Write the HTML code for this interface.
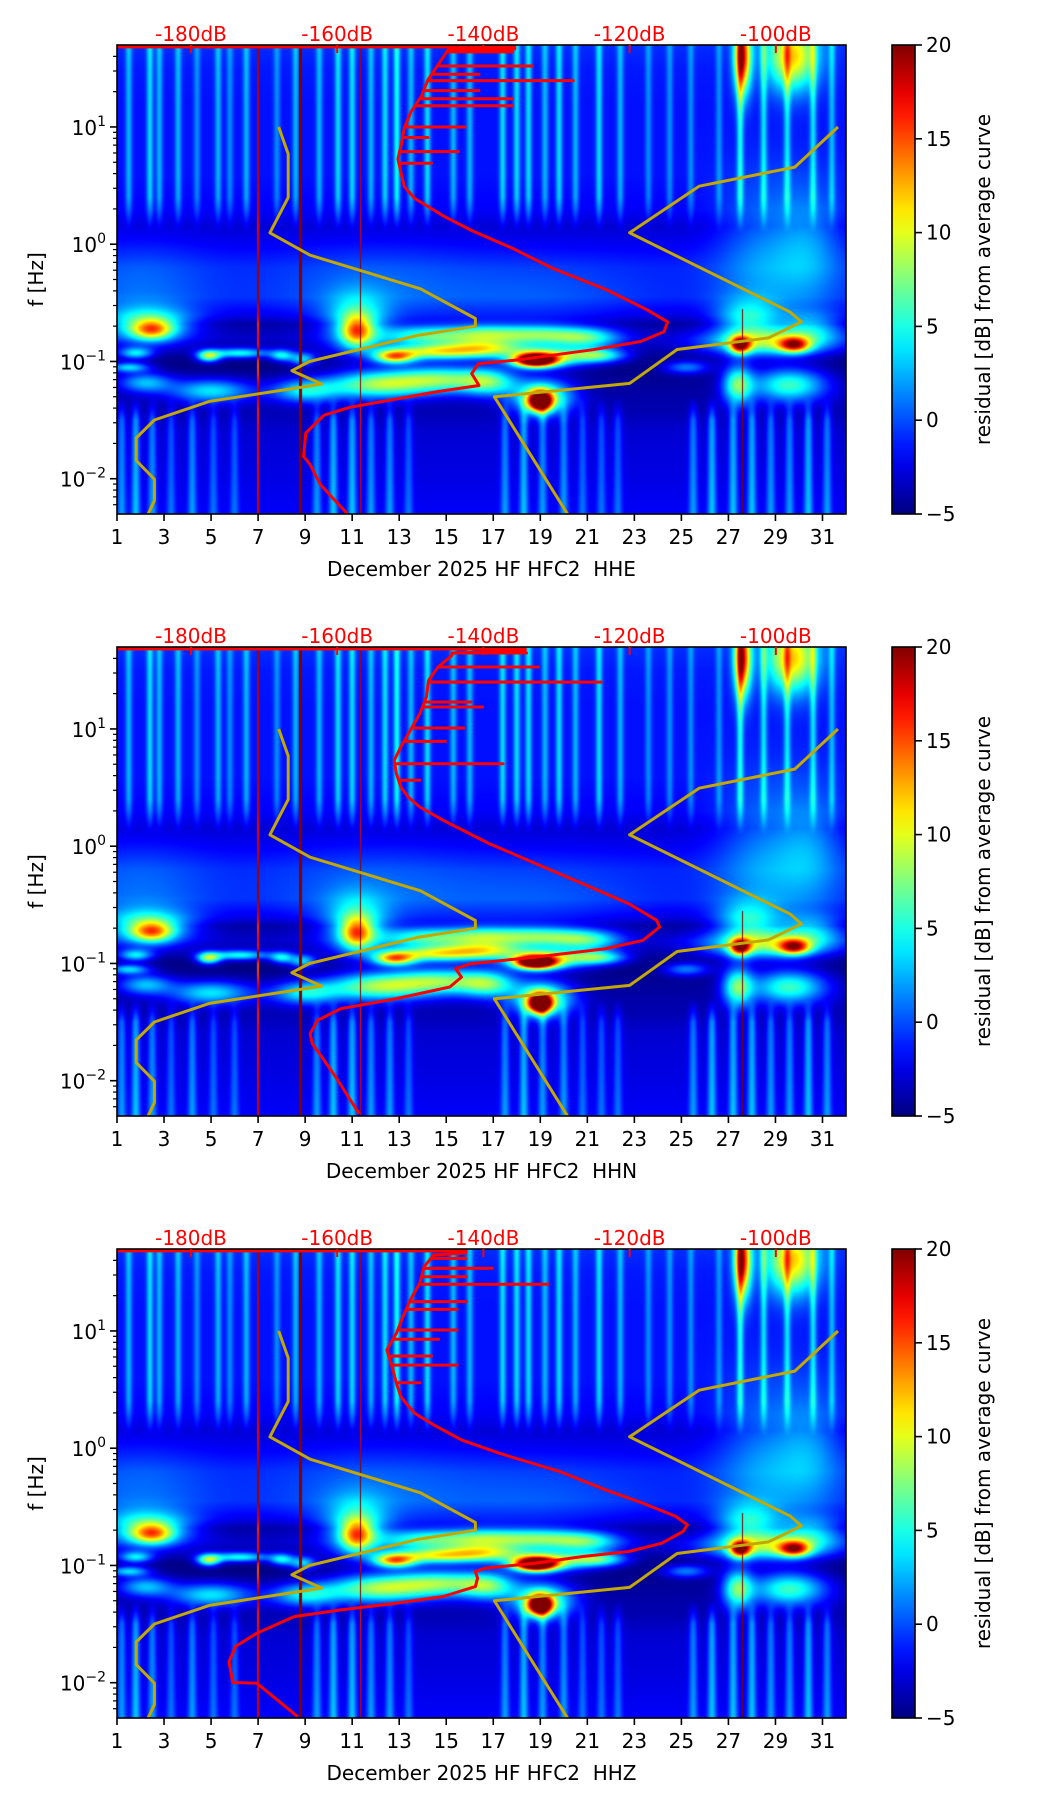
<!DOCTYPE html>
<html><head><meta charset="utf-8">
<style>
html,body{margin:0;padding:0;background:#fff;}
#wrap{position:relative;width:1052px;height:1806px;overflow:hidden;font-family:"DejaVu Sans","Liberation Sans",sans-serif;}
canvas{position:absolute;}
svg{position:absolute;left:0;top:0;}
text{white-space:pre;}
</style></head>
<body>
<div id="wrap">
<canvas id="c0" width="729" height="469" style="left:117px;top:45px"></canvas>
<canvas id="c1" width="729" height="469" style="left:117px;top:647px"></canvas>
<canvas id="c2" width="729" height="469" style="left:117px;top:1249px"></canvas>
<svg id="svg" width="1052" height="1806" xmlns="http://www.w3.org/2000/svg"></svg>
</div>
<script>
// ---------- data ----------
const dayTicks=[1,3,5,7,9,11,13,15,17,19,21,23,25,27,29,31];
const dbTicks=[-180,-160,-140,-120,-100];
const dbTickLabels=["-180dB","-160dB","-140dB","-120dB","-100dB"];
const cbTicks=[-5,0,5,10,15,20];
const cbTickLabels=["\u22125","0","5","10","15","20"];
const yTickExp=[1,0,-1,-2];
const yTickLabels=["1","0","\u22121","\u22122"];
const panelTitles=["December 2025 HF HFC2  HHE","December 2025 HF HFC2  HHN","December 2025 HF HFC2  HHZ"];

const bandLogF=[1.7,1.5,1.2,0.6,0.3,0.15,0.0,-0.2,-0.45,-0.6,-0.68,-0.8,-0.88,-0.97,-1.05,-1.15,-1.3,-1.42,-1.6,-2.0,-2.3];
const bandVal=[-0.8,-1.3,-1.5,-1.5,-2,-3,-2.3,-1.2,-1.2,-2.8,-4.5,-3.5,-4,-5,-5,-4.5,-4,-3.8,-3,-2.5,-2];

const blobDay=[2.5,2.3,1.8,4.9,6.2,8.0,8.9,11.2,11.2,12.8,14.5,16.6,14.0,16.5,19.0,21.0,18.8,19.4,21.5,1.5,2.2,5.0,9.0,12.0,14.8,16.8,19.0,19.1,27.5,29.8,28.6,27.8,30.5,27.4,29.6,25.2,28.5,30.5,2.0,12.0,19.0,27.6,29.7];
const blobLogF=[-0.73,-0.68,-0.93,-0.955,-0.93,-0.95,-0.98,-0.74,-0.68,-0.96,-0.92,-0.89,-0.78,-0.77,-0.77,-0.80,-0.99,-0.96,-0.95,-1.05,-1.18,-1.25,-1.25,-1.2,-1.15,-1.18,-1.34,-1.30,-0.86,-0.86,-0.84,-0.65,-0.72,-1.2,-1.2,-1.05,-0.1,0.0,-0.4,-0.45,-0.5,1.6,1.6];
const blobAmp=[11,9,8,12,9,8,8,11,8,15,12,10,8,9,9,8,28,12,9,8,7,8,8,11,11,8,26,12,18,15,10,7,6,11,10,6,3.5,3.5,2,2,1.5,18,13];
const blobSx=[0.6,1.3,0.5,0.35,0.9,0.35,0.4,0.45,0.9,0.6,1.4,1.2,1.2,1.2,1.3,1.0,0.6,1.3,0.8,0.6,0.8,1.2,1.0,1.5,1.6,0.8,0.35,0.9,0.3,0.45,1.8,0.9,1.0,0.45,1.1,0.7,1.4,1.0,2,3,3,0.25,0.75];
const blobSy=[0.06,0.1,0.035,0.035,0.03,0.035,0.04,0.09,0.17,0.04,0.045,0.05,0.06,0.06,0.06,0.06,0.04,0.06,0.04,0.03,0.06,0.07,0.07,0.08,0.08,0.08,0.06,0.1,0.05,0.045,0.08,0.12,0.1,0.12,0.1,0.04,0.45,0.35,0.3,0.3,0.25,0.22,0.2];

const upStreakDay=[1.5,2.4,2.8,3.6,4.4,5.3,5.8,6.5,7.8,8.6,9.6,10.4,11.0,11.8,12.4,12.9,13.5,14.2,15.3,16.0,17.4,18.0,18.5,19.2,19.8,20.5,21.5,22.4,23.6,24.5,25.4,26.6,27.5,28.5,29.5,30.6,31.4];
const upStreakAmp=[4,5,4,4,3,4,3,4,3,4,4,5,5,4,5,6,4,5,4,4,5,5,5,4,5,4,5,4,3,3,3,3,6,5,5,5,4];
const lowStreakDay=[1.2,1.8,2.5,3.3,4.2,5.1,6.0,9.5,10.2,11.0,11.8,12.6,13.4,17.5,18.3,19.1,20.0,20.8,21.6,22.3,25.5,26.3,27.2,28.0,28.8,29.6,30.4,31.2];
const lowStreakAmp=[4,5,4,3,4,3,3,4,5,5,4,4,3,4,5,4,4,3,3,3,4,5,5,5,4,4,5,4];
const lineDay=[7.0,8.8,11.35,27.6];
const lineAmp=[20,24,20,26];
const lineWidthDays=[0.03,0.06,0.025,0.04];
const lineTopLogF=[1.7,1.7,1.7,-0.55];

// Peterson noise models (period s, dB)
const nlnmPeriod=[0.1,0.17,0.4,0.8,1.24,2.4,4.3,5.0,6.0,10,12,15.6,21.9,31.6,45,70,101,154,328];
const nlnmDb=[-168.0,-166.7,-166.7,-169.2,-163.7,-148.6,-141.1,-141.1,-149.0,-163.8,-166.2,-162.1,-177.5,-185.0,-187.5,-187.5,-185.0,-185.0,-187.5];
const nhnmPeriod=[0.1,0.22,0.32,0.8,3.8,4.6,6.3,7.9,15.4,20,354.8];
const nhnmDb=[-91.5,-97.4,-110.5,-120.0,-98.0,-96.5,-101.0,-113.5,-120.0,-138.5,-126.0];

// Average PSD curves (dB, log10 f) per channel
const red1Db=[-158.6,-162.3,-163.7,-164.6,-164.3,-161.8,-158.2,-146.2,-140.6,-141.6,-140.7,-135.1,-125,-118.5,-115.3,-114.8,-117.6,-123.1,-130.5,-136,-141.6,-145.3,-149.4,-150.8,-151.2,-151.7,-151.2,-150.8,-149.9,-148.5,-147.6,-146.2,-144.8];
const red1LogF=[-2.30,-2.05,-1.88,-1.81,-1.61,-1.458,-1.39,-1.256,-1.205,-1.104,-1.02,-0.985,-0.9,-0.83,-0.747,-0.663,-0.56,-0.39,-0.206,-0.036,0.117,0.235,0.39,0.49,0.59,0.727,0.86,0.995,1.13,1.26,1.40,1.53,1.66];
const red1SpikeLogF=[0.69,0.79,0.91,1.00,1.18,1.24,1.31,1.395,1.45,1.52,1.64];
const red1SpikeDb=[-147.1,-143.4,-147.6,-142.5,-136,-136,-140.6,-127.7,-140.6,-133.3,-136];
const red1TopDb=-135.7;

const red2Db=[-157.0,-160.2,-162.1,-163.4,-163.7,-162.7,-159.5,-151.9,-144.6,-143.0,-143.8,-141.7,-132.8,-123.3,-118.2,-115.9,-116.3,-120.1,-126.4,-132.8,-139.2,-145.5,-148.7,-150.3,-151.3,-151.9,-152.2,-151.3,-150,-148.7,-147.8,-147.5,-146.2,-144.3];
const red2LogF=[-2.281,-1.968,-1.798,-1.684,-1.599,-1.485,-1.386,-1.30,-1.201,-1.116,-1.044,-1.002,-0.945,-0.874,-0.803,-0.689,-0.632,-0.49,-0.32,-0.149,0.022,0.221,0.334,0.42,0.505,0.619,0.732,0.846,0.988,1.13,1.273,1.415,1.528,1.628];
const red2SpikeLogF=[0.562,0.704,0.894,1.008,1.187,1.23,1.40,1.528,1.648];
const red2SpikeDb=[-148.7,-137.3,-145.2,-142.7,-140.1,-141.7,-123.9,-132.5,-134.1];
const red2TopDb=-134.3;

const red3Db=[-165.4,-171.0,-174.3,-174.8,-173.9,-171.0,-165.9,-159.5,-151.9,-145.5,-141.1,-140.8,-141.1,-139.8,-132.8,-126.4,-120.1,-115.6,-112.7,-112.1,-113.7,-118.2,-123.3,-129.6,-134.1,-137.9,-143.0,-146.8,-149.4,-150.6,-151.3,-151.9,-152.5,-153.2,-151.9,-151.0,-150.0,-148.7,-148.1,-146.8];
const red3LogF=[-2.29,-2.004,-1.998,-1.82,-1.69,-1.578,-1.436,-1.379,-1.322,-1.265,-1.18,-1.108,-1.052,-1.023,-0.98,-0.924,-0.881,-0.81,-0.71,-0.653,-0.582,-0.468,-0.355,-0.198,-0.113,-0.042,0.071,0.199,0.298,0.384,0.441,0.554,0.696,0.838,0.98,1.122,1.264,1.407,1.549,1.648];
const red3SpikeLogF=[0.559,0.709,0.786,0.929,1.008,1.184,1.25,1.398,1.463,1.534,1.619];
const red3SpikeDb=[-148.7,-143.6,-147.1,-146.1,-143.6,-143.6,-142.3,-131.2,-142.3,-138.8,-142.4];
const red3TopDb=-142.4;

// ---------- geometry / axes ----------
const L=117,W=729,H=469,panelTops=[45,647,1249];
const dayMin=1,dayMax=32,logMax=Math.log10(50),logMin=Math.log10(0.005);
const dbMin=-190.12,dbMax=-90.4,cbMin=-5,cbMax=20;
const CBX=892,CBW=23;
function xDay(d){return L+(d-dayMin)/(dayMax-dayMin)*W;}
function xDb(db){return L+(db-dbMin)/(dbMax-dbMin)*W;}
function yLog(T,lf){return T+(logMax-lf)/(logMax-logMin)*H;}
function yCb(T,v){return T+H-(v-cbMin)/(cbMax-cbMin)*H;}
function jet(x){const c=t=>Math.max(0,Math.min(1,t));return [c(1.5-Math.abs(4*x-3)),c(1.5-Math.abs(4*x-2)),c(1.5-Math.abs(4*x-1))];}
function interp(xs,ys,x){if(x>=xs[0])return ys[0];for(let i=1;i<xs.length;i++){if(x>=xs[i]){const t=(x-xs[i-1])/(xs[i]-xs[i-1]);return ys[i-1]+t*(ys[i]-ys[i-1]);}}return ys[ys.length-1];}

// ---------- spectrogram ----------
(function(){
  const nb=blobDay.length;
  const bx=[],by=[];
  for(let b=0;b<nb;b++){bx.push(new Float32Array(W));by.push(new Float32Array(H));}
  const su=new Float32Array(W),sl=new Float32Array(W);
  const lcol=[];for(let i=0;i<lineDay.length;i++)lcol.push(new Float32Array(W));
  for(let c=0;c<W;c++){
    const d=dayMin+(c+0.5)/W*(dayMax-dayMin);
    for(let b=0;b<nb;b++){const u=(d-blobDay[b])/blobSx[b];bx[b][c]=blobAmp[b]*Math.exp(-0.5*u*u);}
    for(let i=0;i<upStreakDay.length;i++){const u=(d-upStreakDay[i])/0.1;su[c]+=upStreakAmp[i]*Math.exp(-0.5*u*u);}
    for(let i=0;i<lowStreakDay.length;i++){const u=(d-lowStreakDay[i])/0.13;sl[c]+=lowStreakAmp[i]*Math.exp(-0.5*u*u);}
    for(let i=0;i<lineDay.length;i++){if(Math.abs(d-lineDay[i])<lineWidthDays[i])lcol[i][c]=lineAmp[i];}
  }
  const base=new Float32Array(H),uw=new Float32Array(H),lw=new Float32Array(H),lfs=new Float32Array(H);
  for(let r=0;r<H;r++){
    const lf=logMax-(r+0.5)/H*(logMax-logMin);lfs[r]=lf;
    base[r]=interp(bandLogF,bandVal,lf);
    uw[r]=Math.max(0,Math.min(1,(lf-0.1)/0.3));
    lw[r]=Math.max(0,Math.min(1,(-1.3-lf)/0.2));
    for(let b=0;b<nb;b++){const u=(lf-blobLogF[b])/blobSy[b];by[b][r]=Math.exp(-0.5*u*u);}
  }
  const ctx0=document.getElementById('c0').getContext('2d');
  const img=ctx0.createImageData(W,H);
  for(let r=0;r<H;r++){
    for(let c=0;c<W;c++){
      let v=base[r]+su[c]*uw[r]+sl[c]*lw[r];
      for(let i=0;i<lineDay.length;i++){if(lfs[r]<=lineTopLogF[i])v+=lcol[i][c];}
      for(let b=0;b<nb;b++){const y=by[b][r];if(y>0.001)v+=bx[b][c]*y;}
      const x=Math.max(0,Math.min(1,(v-cbMin)/(cbMax-cbMin)));
      const col=jet(x);const k=(r*W+c)*4;
      img.data[k]=col[0]*255;img.data[k+1]=col[1]*255;img.data[k+2]=col[2]*255;img.data[k+3]=255;
    }
  }
  ['c0','c1','c2'].forEach(id=>document.getElementById(id).getContext('2d').putImageData(img,0,0));
})();

// ---------- svg ----------
const NS='http://www.w3.org/2000/svg';
const svg=document.getElementById('svg');
function el(tag,attrs,parent){const e=document.createElementNS(NS,tag);for(const k in attrs)e.setAttribute(k,attrs[k]);(parent||svg).appendChild(e);return e;}
const defs=el('defs',{});
const grad=el('linearGradient',{id:'jetgrad',x1:'0',y1:'1',x2:'0',y2:'0'},defs);
for(let i=0;i<=20;i++){const c=jet(i/20);el('stop',{offset:(i*5)+'%','stop-color':`rgb(${Math.round(c[0]*255)},${Math.round(c[1]*255)},${Math.round(c[2]*255)})`},grad);}

function interpAsc(xs,ys,x){for(let i=1;i<xs.length;i++){if(x<=xs[i]){const t=(x-xs[i-1])/(xs[i]-xs[i-1]);return ys[i-1]+t*(ys[i]-ys[i-1]);}}return ys[ys.length-1];}
function buildRed(db,lf,sLf,sDb,topDb){
  const pts=db.map((d,i)=>[d,lf[i]]);
  const ins=[];
  for(let i=0;i<sLf.length;i++){
    const b=interpAsc(lf,db,sLf[i]);
    ins.push([b,sLf[i]-0.0001],[sDb[i],sLf[i]],[b,sLf[i]+0.0001]);
  }
  const all=pts.concat(ins).sort((a,b)=>a[1]-b[1]);
  all.push([topDb,1.665],[topDb,1.683],[-260,1.683]);
  return all;
}
const reds=[buildRed(red1Db,red1LogF,red1SpikeLogF,red1SpikeDb,red1TopDb),buildRed(red2Db,red2LogF,red2SpikeLogF,red2SpikeDb,red2TopDb),buildRed(red3Db,red3LogF,red3SpikeLogF,red3SpikeDb,red3TopDb)];
const FONT='"DejaVu Sans","Liberation Sans",sans-serif';

panelTops.forEach((T,p)=>{
  const g=el('g',{});
  
  
  const cp=el('clipPath',{id:'clip'+p},defs);
  el('rect',{x:L,y:T,width:W,height:H},cp);
  const toPts=(per,dbs)=>per.map((t,i)=>xDb(dbs[i]).toFixed(1)+','+yLog(T,-Math.log10(t)).toFixed(1)).join(' ');
  const nl=el('polyline',{points:toPts(nlnmPeriod,nlnmDb),fill:'none',stroke:'#c2a800','stroke-width':3,'clip-path':`url(#clip${p})`,'stroke-linejoin':'round'},g);
  
  
  const nh=el('polyline',{points:toPts(nhnmPeriod,nhnmDb),fill:'none',stroke:'#c2a800','stroke-width':3,'clip-path':`url(#clip${p})`,'stroke-linejoin':'round'},g);
  
  
  const rp=el('polyline',{points:reds[p].map(q=>xDb(q[0]).toFixed(1)+','+yLog(T,q[1]).toFixed(1)).join(' '),fill:'none',stroke:'#ff0000','stroke-width':3,'clip-path':`url(#clip${p})`,'stroke-linejoin':'round'},g);
  
  
  const fr=el('rect',{x:L,y:T,width:W,height:H,fill:'none',stroke:'#000','stroke-width':1.6},g);
  
  
  dayTicks.forEach(d=>{
    const x=xDay(d);
    el('line',{x1:x,y1:T+H,x2:x,y2:T+H+7,stroke:'#000','stroke-width':1.6},g);
    const t=el('text',{x:x,y:T+H+30,'text-anchor':'middle','font-size':20,'font-family':FONT,fill:'#000'},g);
    t.textContent=d;
    
    
  });
  const xt=el('text',{x:L+W/2,y:T+H+62,'text-anchor':'middle','font-size':20,'font-family':FONT,fill:'#000','xml:space':'preserve'},g);
  xt.textContent=panelTitles[p];
  
  
  dbTicks.forEach((db,i)=>{
    const x=xDb(db);
    el('line',{x1:x,y1:T,x2:x,y2:T+8,stroke:'#ff0000','stroke-width':2},g);
    const t=el('text',{x:x,y:T-4,'text-anchor':'middle','font-size':20,'font-family':FONT,fill:'#ff0000'},g);
    t.textContent=dbTickLabels[i];
    
    
  });
  for(let e=-3;e<=1;e++){for(let k=2;k<=9;k++){const lf=e+Math.log10(k);if(lf>logMin&&lf<logMax){const y=yLog(T,lf);el('line',{x1:L-4,y1:y,x2:L,y2:y,stroke:'#000','stroke-width':1.2},g);}}}
  yTickExp.forEach((e,i)=>{
    const y=yLog(T,e);
    el('line',{x1:L-7,y1:y,x2:L,y2:y,stroke:'#000','stroke-width':1.6},g);
    const t=el('text',{x:L-11,y:y+8,'text-anchor':'end','font-size':20,'font-family':FONT,fill:'#000'},g);
    
    
    const a=el('tspan',{},t);a.textContent='10';
    const b=el('tspan',{dy:-9,'font-size':14},t);b.textContent=yTickLabels[i];
  });
  const yt=el('text',{x:0,y:0,'text-anchor':'middle','font-size':20,'font-family':FONT,fill:'#000',transform:`translate(43,${T+H/2}) rotate(-90)`},g);
  yt.textContent='f [Hz]';
  
  
  const cb=el('rect',{x:CBX,y:T,width:CBW,height:H,fill:'url(#jetgrad)',stroke:'#000','stroke-width':1.6},g);
  
  
  cbTicks.forEach((v,i)=>{
    const y=yCb(T,v);
    el('line',{x1:CBX+CBW,y1:y,x2:CBX+CBW+7,y2:y,stroke:'#000','stroke-width':1.6},g);
    const t=el('text',{x:CBX+CBW+11,y:y+7,'font-size':20,'font-family':FONT,fill:'#000'},g);
    t.textContent=cbTickLabels[i];
    
    
  });
  const cl=el('text',{x:0,y:0,'text-anchor':'middle','font-size':20,'font-family':FONT,fill:'#000',transform:`translate(990,${T+H/2}) rotate(-90)`},g);
  cl.textContent='residual [dB] from average curve';
  
  
});
</script>
</body></html>
